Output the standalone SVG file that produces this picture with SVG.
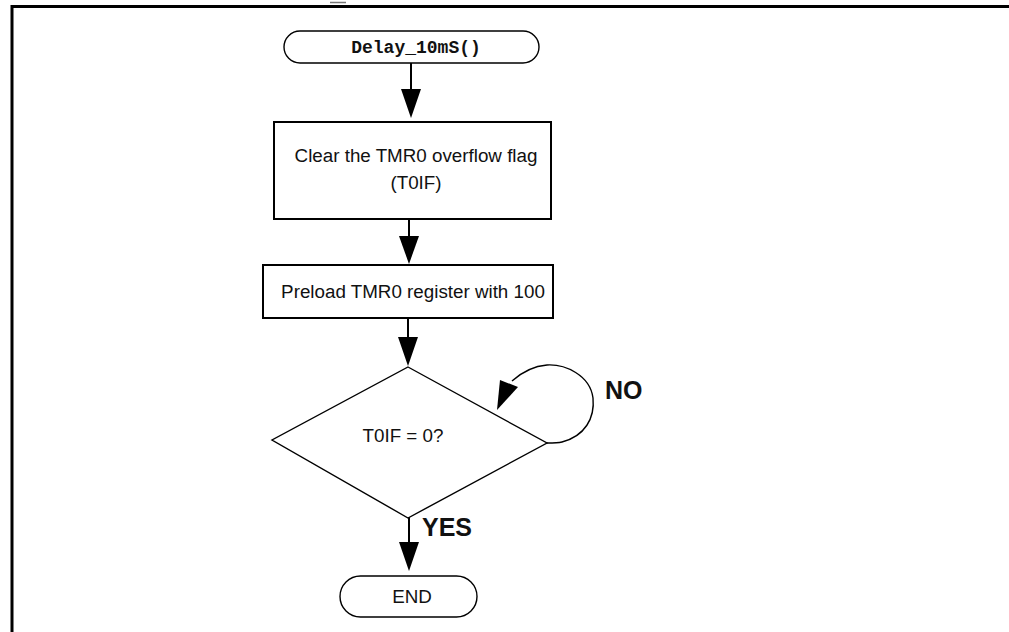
<svg xmlns="http://www.w3.org/2000/svg" width="1009" height="632" viewBox="0 0 1009 632">
<style>
.t{font-family:"Liberation Sans",Arial,sans-serif;font-size:18.8px;fill:#111;text-anchor:middle}
.b{font-family:"Liberation Sans",Arial,sans-serif;font-size:25px;font-weight:bold;fill:#111}
.m{font-family:"Liberation Mono","Courier New",monospace;font-size:18px;font-weight:bold;fill:#111;text-anchor:middle}
.box{fill:#fff;stroke:#000;stroke-width:2}
.thin{fill:#fff;stroke:#000;stroke-width:1.4}
.ln{fill:none;stroke:#000;stroke-width:2}
.loop{fill:none;stroke:#000;stroke-width:1.4}
.ah{fill:#000}
</style>
<rect width="1009" height="632" fill="#fff"/>
<g id="frame">
<line x1="330" y1="2.5" x2="346" y2="2.5" stroke="#777" stroke-width="1.5"/>
<line x1="11" y1="6.5" x2="1009" y2="6.5" stroke="#000" stroke-width="3"/>
<line x1="12" y1="5" x2="12" y2="632" stroke="#000" stroke-width="3"/>
</g>
<g id="connectors">
<line class="ln" x1="411" y1="63" x2="411" y2="90"/>
<polygon class="ah" points="401,89 421,89 411,118"/>
<line class="ln" x1="409" y1="219" x2="409" y2="238"/>
<polygon class="ah" points="399,236 419,236 409,264"/>
<line class="ln" x1="408" y1="318" x2="408" y2="339"/>
<polygon class="ah" points="398,337 418,337 408,366"/>
<path class="loop" d="M547,443 C553,443 558,443 562,442 C585,436 595,418 593,398 C590,375 565,364 547,365 C535,366 522,372 512,381"/>
<polygon class="ah" points="500,380 518,387 497,410"/>
<line class="ln" x1="409" y1="517" x2="409" y2="544"/>
<polygon class="ah" points="399,542 419,542 409,571"/>
</g>
<g id="start">
<rect class="thin" x="284" y="31" width="255" height="32" rx="16"/>
<text class="m" x="416" y="53">Delay_10mS()</text>
</g>
<g id="clear">
<rect class="box" x="274" y="122" width="277" height="97"/>
<text class="t" x="416" y="161.5">Clear the TMR0 overflow flag</text>
<text class="t" x="416" y="188.5">(T0IF)</text>
</g>
<g id="preload">
<rect class="box" x="263" y="265" width="290" height="53"/>
<text class="t" x="413" y="298">Preload TMR0 register with 100</text>
</g>
<g id="decision">
<polygon class="thin" points="408,367 547,443 408,518 272,440"/>
<text class="t" x="403" y="442">T0IF = 0?</text>
</g>
<g id="labels">
<text class="b" x="605" y="399">NO</text>
<text class="b" x="422" y="536">YES</text>
</g>
<g id="end">
<rect class="thin" x="340" y="576" width="137" height="41" rx="20.5"/>
<text class="t" x="412" y="603">END</text>
</g>
</svg>
